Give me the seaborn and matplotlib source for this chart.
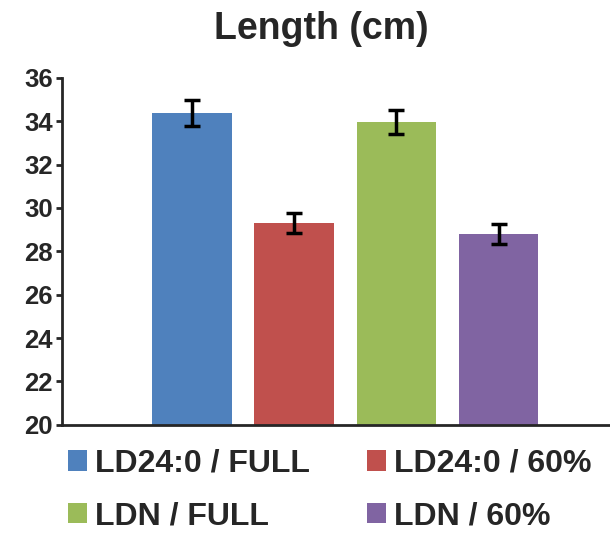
import numpy as np
import matplotlib
matplotlib.use("Agg")
import matplotlib.pyplot as plt
import seaborn as sns
import pandas as pd
from matplotlib.patches import Patch

# data
groups = ['LD24:0 / FULL', 'LD24:0 / 60%', 'LDN / FULL', 'LDN / 60%']
length = [34.4, 29.3, 33.95, 28.8]
err = [0.6, 0.45, 0.55, 0.45]
colors = ['#4F81BD', '#C0504D', '#9BBB59', '#8064A2']

sns.set_style('white')
plt.rcParams['font.family'] = ['Liberation Sans', 'DejaVu Sans']

df = pd.DataFrame({'group': groups, 'length': length})

fig = plt.figure(figsize=(6.1, 5.33), dpi=100)
ax = fig.add_axes([0.102, 0.203, 0.898, 0.651])

sns.barplot(data=df, x='group', y='length', hue='group', palette=colors,
            width=0.78, saturation=1, errorbar=None, legend=False, ax=ax,
            edgecolor='none')
ax.errorbar(np.arange(len(groups)), length, yerr=err, fmt='none',
            ecolor='black', elinewidth=2.5, capsize=5.5, capthick=2.5)

ax.set_ylim(20, 36)
ax.set_yticks(np.arange(20, 37, 2))
ax.set_xlim(-1.27, 4.09)
ax.set_xticks([])
ax.set_xlabel('')
ax.set_ylabel('')
for lab in ax.get_yticklabels():
    lab.set_fontweight('bold')
ax.tick_params(axis='y', labelsize=18.5, length=4, width=2, direction='out', left=True, pad=3)
sns.despine(ax=ax, top=True, right=True)
ax.spines['left'].set_linewidth(2)
ax.spines['bottom'].set_linewidth(2)

fig.suptitle('Length (cm)', fontsize=27, fontweight='bold', x=0.527, y=0.98)

# row-major order like the reference: matplotlib fills legend columns first
order = [0, 2, 1, 3]
handles = [Patch(facecolor=colors[i], edgecolor='none') for i in order]
labels = [groups[i] for i in order]
fig.legend(handles, labels, loc='upper left', bbox_to_anchor=(0.064, 0.212), ncol=2,
           frameon=False, prop={'size': 23, 'weight': 'bold'},
           handlelength=0.6, handleheight=0.6, handletextpad=0.25,
           columnspacing=1.8, labelspacing=0.7)

fig.savefig('out.png', dpi=100)
